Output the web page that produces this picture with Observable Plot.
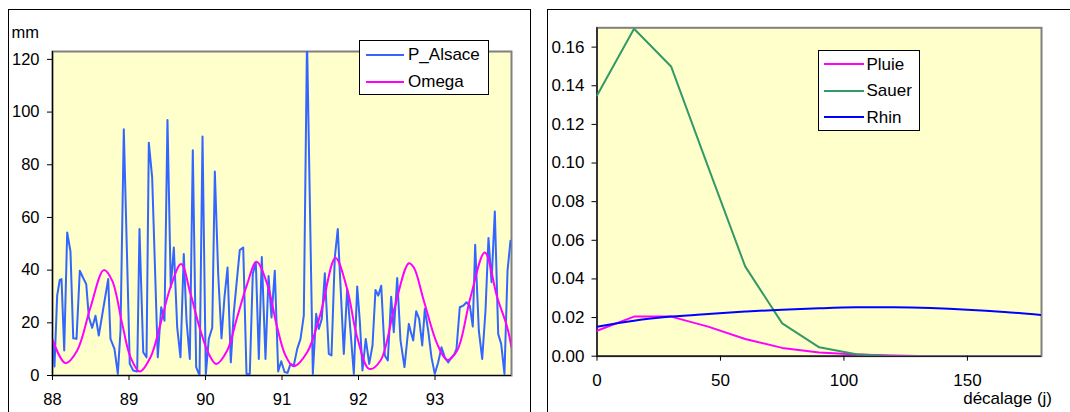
<!DOCTYPE html>
<html><head><meta charset="utf-8">
<script src="https://cdn.jsdelivr.net/npm/d3@7"></script>
<script src="https://cdn.jsdelivr.net/npm/@observablehq/plot@0.6"></script>
<style>
body{margin:0;background:#fff;}
#root{position:relative;width:1070px;height:412px;overflow:hidden;font-family:"Liberation Sans",Arial,sans-serif;color:#000;}
.panel{position:absolute;border:1px solid #000;box-sizing:border-box;}
.abs{position:absolute;white-space:nowrap;line-height:1;}
.plot{position:absolute;top:0;}
.legend{position:absolute;background:#fff;border:1px solid #000;box-sizing:border-box;}
.sample{position:absolute;height:2px;}
.ltext{position:absolute;line-height:1;white-space:nowrap;}
</style></head>
<body><div id="root"></div>
<script>
// ---------- Left chart data ----------
const alsaceYear = [88.000,88.026,88.061,88.095,88.118,88.153,88.192,88.235,88.271,88.314,88.357,88.401,88.441,88.475,88.519,88.562,88.605,88.728,88.758,88.810,88.854,88.889,88.932,89.010,89.055,89.107,89.137,89.186,89.229,89.259,89.303,89.376,89.421,89.464,89.503,89.546,89.586,89.630,89.673,89.716,89.752,89.795,89.834,89.878,89.922,89.961,90.004,90.043,90.088,90.122,90.166,90.209,90.248,90.288,90.331,90.370,90.448,90.493,90.536,90.579,90.618,90.658,90.697,90.736,90.784,90.824,90.863,90.906,90.950,90.990,91.033,91.072,91.111,91.154,91.199,91.242,91.285,91.327,91.403,91.447,91.481,91.520,91.560,91.612,91.647,91.690,91.729,91.808,91.852,91.895,91.939,91.983,92.017,92.052,92.095,92.140,92.183,92.222,92.258,92.297,92.344,92.383,92.427,92.461,92.506,92.549,92.601,92.658,92.680,92.715,92.754,92.793,92.833,92.867,92.911,92.954,92.997,93.042,93.085,93.128,93.173,93.216,93.255,93.281,93.324,93.369,93.412,93.455,93.494,93.525,93.573,93.617,93.660,93.699,93.739,93.782,93.826,93.865,93.908,93.948,93.987];
const alsaceMm = [13.3,3.4,30.3,36.3,36.6,9.5,54.3,47.1,14.1,13.9,39.8,37,34.7,22.1,18.1,22.7,15.2,36.6,13.9,10.1,0.6,17,93.5,4.4,1.9,1.5,55.6,8.8,6.9,88.4,75.1,6.9,25.9,20.8,97,33.5,48.6,18.3,6.9,46.1,20.8,6.3,85.5,3.2,0,90.7,0.3,13.9,18.1,77.4,38.5,14.1,29.7,41,5,24,47.6,48.6,0.6,0.6,38.5,43,6.3,45,6.3,37.8,22,39.8,1.5,5.4,1.3,1,4.4,3.8,10.1,13.9,22.7,128,0.6,23.4,17.7,21.5,38.8,8.2,7.6,44.8,55.6,8.2,32.8,17,0.6,33.8,20.8,1.9,13.9,4.4,11.4,32.5,30.3,34.1,7.6,5.7,29.9,16.4,37,13.3,3.2,19.6,17,13.3,24.4,21.5,11.4,25.3,17,6.9,0.6,5,10.7,6.9,5,6.9,8.2,10.1,25.9,26.5,27.8,26.5,18.6,49.6,17,6.3,24.6,52.2,35.4,62.3,15.8,12,0.6,39.8,51.2];
const omegaYear = [88.000,88.170,88.323,88.497,88.671,88.780,88.911,89.020,89.141,89.281,89.412,89.542,89.682,89.804,89.935,90.043,90.140,90.284,90.414,90.545,90.667,90.807,90.937,91.046,91.150,91.329,91.503,91.699,91.852,91.983,92.140,92.288,92.461,92.658,92.723,92.854,93.029,93.159,93.290,93.464,93.651,93.813,93.944,94.000];
const omegaMm = [13.6,4.7,9.5,25.9,40,36,19.6,6.9,1.5,6.9,19.6,33.5,42.3,31,17,8.2,4.4,9.5,22.1,34.7,43.2,34.7,18.3,7.6,3.5,8.8,23.4,44.6,32.8,14.5,2.5,5.7,24.6,42.6,41,28.4,12,5.9,9.5,29.7,46.7,29.7,18.3,10.7];
const yearTicks = [88,89,90,91,92,93];
const mmTicks = [0,20,40,60,80,100,120];

// ---------- Right chart data ----------
const lagDays = [0,15,30,45,60,75,90,105,120,135,150,165,180];
const pluie = [0.0132,0.0205,0.0205,0.0153,0.0089,0.0043,0.0019,0.0009,0.0003,0,0,0,0];
const sauer = [0.135,0.1695,0.150,0.098,0.0465,0.017,0.0046,0.001,0,0,0,0,0];
const rhin  = [0.0153,0.0184,0.0205,0.0219,0.0231,0.0241,0.0248,0.0253,0.0253,0.0249,0.0241,0.0229,0.0213];
const lagTicks = [0,50,100,150];
const corrTicks = [0,0.02,0.04,0.06,0.08,0.10,0.12,0.14,0.16];

const root = document.getElementById("root");
function add(html){ const d=document.createElement("div"); d.innerHTML=html; const el=d.firstElementChild; root.appendChild(el); return el; }

add('<div class="panel" style="left:8px;top:9px;width:523px;height:430px"></div>');
add('<div class="panel" style="left:547px;top:9px;width:540px;height:430px"></div>');

const alsace = alsaceYear.map((x,i)=>({x, y: alsaceMm[i]}));
const omega = omegaYear.map((x,i)=>({x, y: omegaMm[i]}));

const baseStyle = {fontFamily:'"Liberation Sans", Arial, sans-serif', color:"#000", background:"none", overflow:"visible"};

const leftPlot = Plot.plot({
  width: 530, height: 412,
  marginLeft: 52, marginRight: 19, marginTop: 51, marginBottom: 37,
  x: {domain:[88,94]},
  y: {domain:[0,123]},
  style: {...baseStyle, fontSize:"16.5px"},
  marks: [
    Plot.frame({fill:"#FFFFCC"}),
    Plot.frame({stroke:"#808080", strokeWidth:2}),
    Plot.line(alsace, {x:"x", y:"y", stroke:"#3366FF", strokeWidth:2, clip:true}),
    Plot.line(omega, {x:"x", y:"y", curve:"catmull-rom", stroke:"#FF00FF", strokeWidth:2, clip:true}),
    Plot.ruleX([88], {stroke:"#000", strokeWidth:1.2}),
    Plot.ruleY([0], {stroke:"#000", strokeWidth:1.2}),
    Plot.axisX({ticks: yearTicks, tickSize:5, tickPadding:13, tickFormat:d=>String(d), label:null}),
    Plot.axisY({ticks: mmTicks, tickSize:5, tickPadding:8, tickFormat:d=>String(d), label:null})
  ]
});
leftPlot.classList.add("plot");
leftPlot.style.left = "0px";
root.appendChild(leftPlot);

const pluieData = lagDays.map((x,i)=>({x, y:pluie[i]}));
const sauerData = lagDays.map((x,i)=>({x, y:sauer[i]}));
const rhinData = lagDays.map((x,i)=>({x, y:rhin[i]}));

const rightPlot = Plot.plot({
  width: 530, height: 412,
  marginLeft: 56.5, marginRight: 29, marginTop: 27.3, marginBottom: 56.3,
  x: {domain:[0,180]},
  y: {domain:[0,0.17]},
  style: {...baseStyle, fontSize:"17px"},
  marks: [
    Plot.frame({fill:"#FFFFCC"}),
    Plot.frame({stroke:"#808080", strokeWidth:2}),
    Plot.ruleX([0], {stroke:"#000", strokeWidth:1.2}),
    Plot.ruleY([0], {stroke:"#000", strokeWidth:1.2}),
    Plot.line(pluieData, {x:"x", y:"y", stroke:"#FF00FF", strokeWidth:2, clip:true}),
    Plot.line(sauerData, {x:"x", y:"y", stroke:"#339966", strokeWidth:2, clip:true}),
    Plot.line(rhinData, {x:"x", y:"y", curve:"catmull-rom", stroke:"#0000FF", strokeWidth:2, clip:true}),
    Plot.axisX({ticks: lagTicks, tickSize:5, tickPadding:12.3, tickFormat:d=>String(d), label:null}),
    Plot.axisY({ticks: corrTicks, tickSize:5, tickPadding:7.5, tickFormat:d3.format(".2f"), label:null})
  ]
});
rightPlot.classList.add("plot");
rightPlot.style.left = "540px";
root.appendChild(rightPlot);

// texts
add('<div class="abs" style="left:11.4px;top:24.3px;font-size:16.5px">mm</div>');
add('<div class="abs" style="right:18px;top:390.4px;font-size:17px;line-height:17px">décalage (j)</div>');

// legends
function legend(left, top, w, h, items, fs, sx, sw, tx){
  const box = add(`<div class="legend" style="left:${left}px;top:${top}px;width:${w}px;height:${h}px"></div>`);
  items.forEach(it=>{
    const s=document.createElement("div"); s.className="sample";
    s.style.cssText=`left:${sx}px;top:${it.cy-1}px;width:${sw}px;background:${it.color}`;
    box.appendChild(s);
    const t=document.createElement("div"); t.className="ltext";
    t.style.cssText=`left:${tx}px;top:${it.cy - fs*0.5}px;font-size:${fs}px`;
    t.textContent=it.label; box.appendChild(t);
  });
}
legend(359, 40, 130, 55, [
  {label:"P_Alsace", color:"#3366FF", cy:13.5},
  {label:"Omega", color:"#FF00FF", cy:40.5}
], 17, 5.5, 38, 48);
legend(818, 50, 102, 81, [
  {label:"Pluie", color:"#FF00FF", cy:13},
  {label:"Sauer", color:"#339966", cy:39.7},
  {label:"Rhin", color:"#0000FF", cy:66.4}
], 17, 5, 39.6, 47.5);
</script></body></html>
